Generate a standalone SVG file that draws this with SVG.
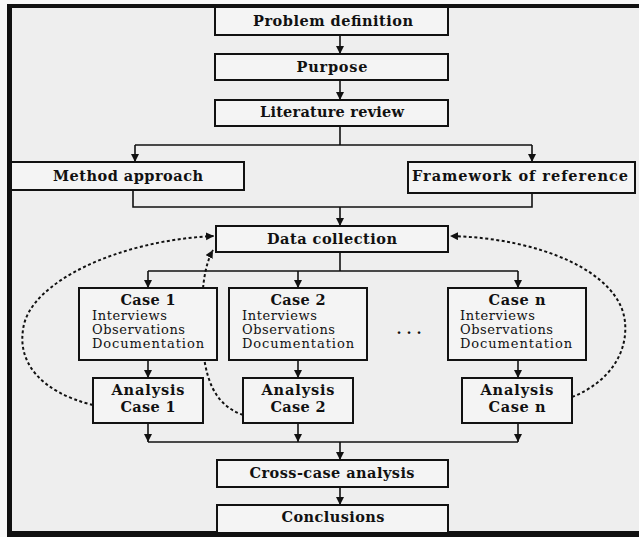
<svg xmlns="http://www.w3.org/2000/svg" width="639" height="537" viewBox="0 0 639 537">
  <defs>
    <marker id="arrow" markerUnits="userSpaceOnUse" markerWidth="9" markerHeight="9" refX="8" refY="4" orient="auto">
      <path d="M0,0 L8,4 L0,8 z" fill="#111"/>
    </marker>
    <style>
      .box { fill: #f4f4f4; stroke: #111; stroke-width: 2; }
      .t { font-family: "DejaVu Serif", "Liberation Serif", serif; font-weight: bold; font-size: 14.5px; text-anchor: middle; fill: #111; }
      .s { font-family: "DejaVu Serif", "Liberation Serif", serif; font-size: 13px; fill: #111; }
      .ln { stroke: #111; stroke-width: 1.6; fill: none; }
      .dot { stroke: #111; stroke-width: 2; fill: none; stroke-dasharray: 3 2.5; }
    </style>
  </defs>

  <!-- page and frame -->
  <rect x="0" y="0" width="639" height="537" fill="#f8f8f8"/>
  <rect x="10" y="6" width="629" height="527" fill="#eeeeee"/>
  <g id="frame" fill="#111">
    <rect x="7" y="4" width="632" height="4"/>
    <rect x="7" y="4" width="5" height="533"/>
    <rect x="7" y="531" width="632" height="6"/>
  </g>

  <!-- connectors -->
  <g id="connectors">
    <line class="ln" x1="340" y1="35" x2="340" y2="54" marker-end="url(#arrow)"/>
    <line class="ln" x1="340" y1="80" x2="340" y2="100" marker-end="url(#arrow)"/>
    <polyline class="ln" points="340,126 340,145"/>
    <line class="ln" x1="135" y1="145" x2="532" y2="145"/>
    <line class="ln" x1="135" y1="145" x2="135" y2="162" marker-end="url(#arrow)"/>
    <line class="ln" x1="532" y1="145" x2="532" y2="162" marker-end="url(#arrow)"/>
    <polyline class="ln" points="133,190 133,207 532,207 532,193"/>
    <line class="ln" x1="340" y1="207" x2="340" y2="226" marker-end="url(#arrow)"/>
    <line class="ln" x1="340" y1="252" x2="340" y2="271"/>
    <line class="ln" x1="148" y1="271" x2="518" y2="271"/>
    <line class="ln" x1="148" y1="271" x2="148" y2="288" marker-end="url(#arrow)"/>
    <line class="ln" x1="298" y1="271" x2="298" y2="288" marker-end="url(#arrow)"/>
    <line class="ln" x1="518" y1="271" x2="518" y2="288" marker-end="url(#arrow)"/>
    <line class="ln" x1="148" y1="360" x2="148" y2="378" marker-end="url(#arrow)"/>
    <line class="ln" x1="298" y1="360" x2="298" y2="378" marker-end="url(#arrow)"/>
    <line class="ln" x1="518" y1="360" x2="518" y2="378" marker-end="url(#arrow)"/>
    <line class="ln" x1="148" y1="423" x2="148" y2="442" marker-end="url(#arrow)"/>
    <line class="ln" x1="298" y1="423" x2="298" y2="442" marker-end="url(#arrow)"/>
    <line class="ln" x1="518" y1="423" x2="518" y2="442" marker-end="url(#arrow)"/>
    <line class="ln" x1="148" y1="442" x2="518" y2="442"/>
    <line class="ln" x1="340" y1="442" x2="340" y2="460" marker-end="url(#arrow)"/>
    <line class="ln" x1="340" y1="487" x2="340" y2="505" marker-end="url(#arrow)"/>
    <!-- feedback loops -->
    <path class="dot" d="M93,405 C40,392 18,362 23,330 C28,282 120,240 214,236" marker-end="url(#arrow)"/>
    <path class="dot" d="M243,415 C215,405 203,380 202,330 C201,292 204,266 213,250" marker-end="url(#arrow)"/>
    <path class="dot" d="M572,397 C610,382 628,352 625,322 C620,272 540,238 450,236" marker-end="url(#arrow)"/>
  </g>

  <g id="problem">
    <rect class="box" x="215" y="7" width="233" height="28"/>
    <text class="t" x="333" y="26" textLength="160">Problem definition</text>
  </g>
  <g id="purpose">
    <rect class="box" x="215" y="54" width="233" height="26"/>
    <text class="t" x="332" y="72" textLength="71">Purpose</text>
  </g>
  <g id="literature">
    <rect class="box" x="215" y="100" width="233" height="26"/>
    <text class="t" x="332" y="117" textLength="144">Literature review</text>
  </g>
  <g id="method">
    <rect class="box" x="11" y="162" width="233" height="28"/>
    <text class="t" x="128" y="181" textLength="150">Method approach</text>
  </g>
  <g id="framework">
    <rect class="box" x="408" y="162" width="227" height="31"/>
    <text class="t" x="520" y="181" textLength="216">Framework of reference</text>
  </g>
  <g id="datacollection">
    <rect class="box" x="216" y="226" width="232" height="26"/>
    <text class="t" x="332" y="244" textLength="130">Data collection</text>
  </g>

  <g id="case1">
    <rect class="box" x="79" y="288" width="138" height="72"/>
    <text class="t" x="148" y="305" textLength="55">Case 1</text>
    <text class="s" x="92" y="320" textLength="75">Interviews</text>
    <text class="s" x="92" y="334" textLength="93">Observations</text>
    <text class="s" x="92" y="348" textLength="112">Documentation</text>
  </g>
  <g id="case2">
    <rect class="box" x="229" y="288" width="138" height="72"/>
    <text class="t" x="298" y="305" textLength="55">Case 2</text>
    <text class="s" x="242" y="320" textLength="75">Interviews</text>
    <text class="s" x="242" y="334" textLength="93">Observations</text>
    <text class="s" x="242" y="348" textLength="112">Documentation</text>
  </g>
  <g id="ellipsis">
    <text class="t" x="409" y="334">. . .</text>
  </g>
  <g id="casen">
    <rect class="box" x="448" y="288" width="138" height="72"/>
    <text class="t" x="517" y="305" textLength="57">Case n</text>
    <text class="s" x="460" y="320" textLength="75">Interviews</text>
    <text class="s" x="460" y="334" textLength="93">Observations</text>
    <text class="s" x="460" y="348" textLength="112">Documentation</text>
  </g>

  <g id="analysis1">
    <rect class="box" x="93" y="378" width="110" height="45"/>
    <text class="t" x="148" y="395" textLength="73">Analysis</text>
    <text class="t" x="148" y="412" textLength="55">Case 1</text>
  </g>
  <g id="analysis2">
    <rect class="box" x="243" y="378" width="110" height="45"/>
    <text class="t" x="298" y="395" textLength="73">Analysis</text>
    <text class="t" x="298" y="412" textLength="55">Case 2</text>
  </g>
  <g id="analysisn">
    <rect class="box" x="462" y="378" width="110" height="45"/>
    <text class="t" x="517" y="395" textLength="73">Analysis</text>
    <text class="t" x="517" y="412" textLength="57">Case n</text>
  </g>

  <g id="crosscase">
    <rect class="box" x="217" y="460" width="231" height="27"/>
    <text class="t" x="332" y="478" textLength="165">Cross-case analysis</text>
  </g>
  <g id="conclusions">
    <rect class="box" x="217" y="505" width="231" height="28"/>
    <text class="t" x="333" y="522" textLength="103">Conclusions</text>
  </g>
</svg>
